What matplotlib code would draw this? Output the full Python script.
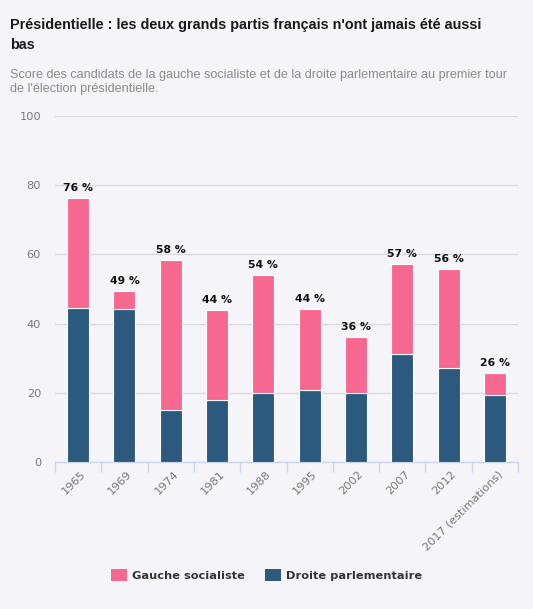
import matplotlib
matplotlib.use("Agg")
import matplotlib.pyplot as plt
from matplotlib.patches import Patch
import numpy as np

categories = ["1965", "1969", "1974", "1981", "1988", "1995", "2002", "2007", "2012", "2017 (estimations)"]
droite = [44.6, 44.3, 15.1, 18.0, 19.9, 20.8, 19.9, 31.2, 27.2, 19.3]
gauche = [31.7, 5.0, 43.2, 25.8, 34.1, 23.3, 16.2, 25.9, 28.6, 6.5]
labels = ["76 %", "49 %", "58 %", "44 %", "54 %", "44 %", "36 %", "57 %", "56 %", "26 %"]
yticks = [0, 20, 40, 60, 80, 100]

BG = "#f5f5f9"
PINK = "#f76891"
BLUE = "#2b5a7e"

fig = plt.figure(figsize=(5.33, 6.09), dpi=100, facecolor=BG)
ax = fig.add_axes([55/533, 1-462/609, (518-55)/533, (462-116)/609])
ax.set_facecolor(BG)

x = np.arange(len(categories))
w = 0.475
ax.bar(x, droite, width=w, color=BLUE, edgecolor="white", linewidth=0.8, zorder=3)
ax.bar(x, gauche, bottom=droite, width=w, color=PINK, edgecolor="white", linewidth=0.8, zorder=3)

totals = np.array(droite) + np.array(gauche)
for xi, t, lab in zip(x, totals, labels):
    ax.text(xi, t + 1.5, lab, ha="center", va="bottom", fontsize=7.8, fontweight="bold",
            color="#111111", family="DejaVu Sans")

ax.set_xlim(-0.5, len(categories) - 0.5)
ax.set_ylim(0, 100)
ax.set_yticks(yticks)
ax.set_yticklabels([str(v) for v in yticks], color="#777777", fontsize=8.2, family="DejaVu Sans")
ax.tick_params(axis="y", length=0, pad=10)
ax.grid(axis="y", color="#d8d8e0", linewidth=0.9, zorder=0)

for s in ["top", "right", "left"]:
    ax.spines[s].set_visible(False)
ax.spines["bottom"].set_color("#ccd6eb")
ax.spines["bottom"].set_linewidth(1)

ax.set_xticks(x + 0.05)
ax.set_xticklabels(categories, rotation=45, ha="right", rotation_mode="anchor",
                   color="#777777", fontsize=8.2, family="DejaVu Sans")
ax.tick_params(axis="x", length=0, pad=5)
ax.set_xticks(np.arange(-0.5, len(categories)), minor=True)
ax.tick_params(axis="x", which="minor", length=7, color="#ccd6eb", width=1)

fig.text(10/533, 1-18/609, "Présidentielle : les deux grands partis français n'ont jamais été aussi\nbas",
         fontsize=10.4, fontweight="bold", color="#1a1a1a", family="Liberation Sans",
         va="top", ha="left", linespacing=1.55)
fig.text(10/533, 1-69/609,
         "Score des candidats de la gauche socialiste et de la droite parlementaire au premier tour\nde l'élection présidentielle.",
         fontsize=9.1, color="#8a8a8a", family="Liberation Sans", va="top", ha="left", linespacing=1.2)

handles = [Patch(facecolor=PINK, label="Gauche socialiste"),
           Patch(facecolor=BLUE, label="Droite parlementaire")]
leg = fig.legend(handles=handles, loc="center", bbox_to_anchor=(0.5, 1-575/609), ncol=2,
                 frameon=False, prop={"family": "DejaVu Sans", "weight": "bold", "size": 8.2},
                 handlelength=1.35, handleheight=1.35, columnspacing=1.8, handletextpad=0.45)
for t in leg.get_texts():
    t.set_color("#333333")

fig.savefig("out.png", dpi=100, facecolor=BG)
